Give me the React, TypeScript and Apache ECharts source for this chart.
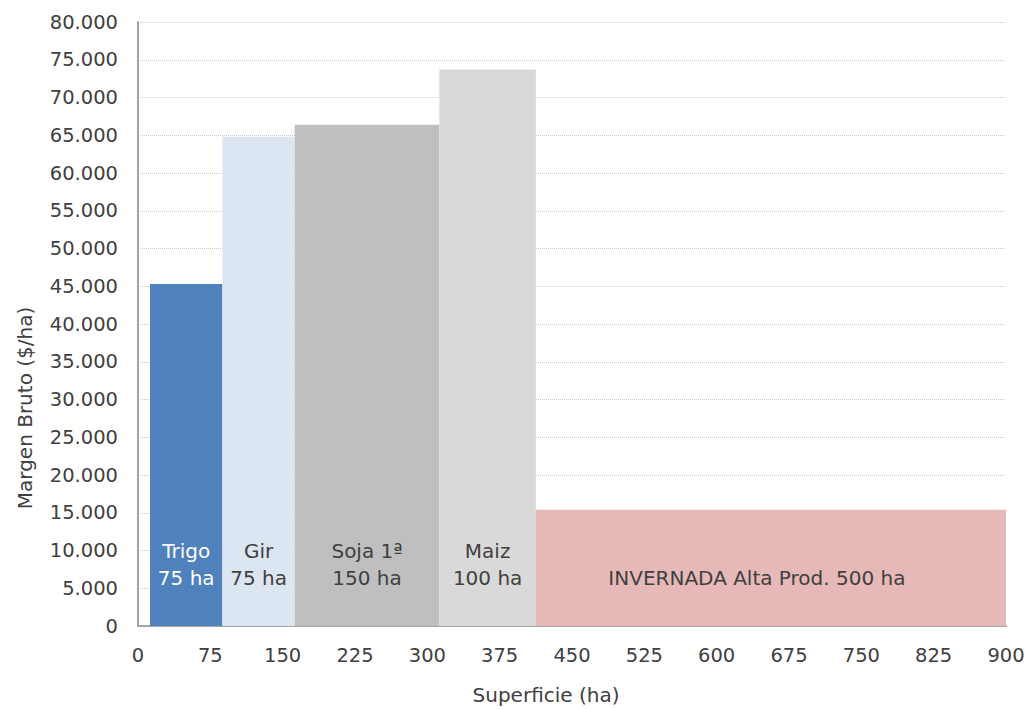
import React, { useEffect, useRef } from "react";
import * as echarts from "echarts";

const cropLabels = ["Trigo\n75 ha", "Gir\n75 ha", "Soja 1ª\n150 ha", "Maiz\n100 ha", "INVERNADA Alta Prod. 500 ha"];
const startHa = [12.5, 87.5, 162.5, 312.5, 412.5];
const endHa = [87.5, 162.5, 312.5, 412.5, 900];
const margenBruto = [45300, 64800, 66400, 73700, 15400];
const barColors = ["#4F81BD", "#DCE6F2", "#BFBFBF", "#D9D9D9", "#E6B9B8"];
const labelColors = ["#FFFFFF", "#404040", "#404040", "#404040", "#404040"];
const labelShiftX = [0, 0, 0, 0, -14];

const FONT = "DejaVu Sans";

function fmt(v: number) {
  return String(v).replace(/\B(?=(\d{3})+(?!\d))/g, ".");
}

export default function App() {
  const ref = useRef<HTMLDivElement>(null);
  useEffect(() => {
    document.body.style.margin = "0";
    const chart = echarts.init(ref.current!, null, { renderer: "svg" });
    const data = startHa.map((s, i) => [s, endHa[i], margenBruto[i]]);
    chart.setOption({
      animation: false,
      backgroundColor: "#ffffff",
      grid: { left: 138, right: 19, top: 22, bottom: 83, containLabel: false, outerBoundsMode: "none" },
      graphic: [
        {
          type: "text",
          x: 25,
          y: 408,
          rotation: Math.PI / 2,
          style: {
            text: "Margen Bruto ($/ha)",
            fontFamily: FONT,
            fontSize: 20,
            fill: "#404040",
            align: "center",
            verticalAlign: "middle",
          },
        },
        {
          type: "text",
          x: 546,
          y: 695,
          style: {
            text: "Superficie (ha)",
            fontFamily: FONT,
            fontSize: 20,
            fill: "#404040",
            align: "center",
            verticalAlign: "middle",
          },
        },
      ],
      xAxis: {
        type: "value",
        min: 0,
        max: 900,
        interval: 75,
        axisLine: { show: true, lineStyle: { color: "#A6A6A6", width: 2 } },
        axisTick: { show: false },
        splitLine: { show: false },
        axisLabel: { fontFamily: FONT, fontSize: 19.5, color: "#404040", margin: 19 },
      },
      yAxis: {
        type: "value",
        min: 0,
        max: 80000,
        interval: 5000,
        axisLine: { show: true, lineStyle: { color: "#A6A6A6", width: 2 } },
        axisTick: { show: false },
        splitLine: { show: true, lineStyle: { color: "#C8C8C8", type: "dotted", width: 1 } },
        axisLabel: { fontFamily: FONT, fontSize: 19.5, color: "#404040", margin: 20, formatter: (v: number) => fmt(v) },
      },
      series: [
        {
          type: "custom",
          data,
          encode: { x: [0, 1], y: 2 },
          renderItem: (params: any, api: any) => {
            const i = params.dataIndex;
            const p0 = api.coord([api.value(0), api.value(2)]);
            const p1 = api.coord([api.value(1), 0]);
            return {
              type: "rect",
              shape: { x: p0[0], y: p0[1], width: p1[0] - p0[0], height: p1[1] - p0[1] },
              style: { fill: barColors[i] },
              textContent: {
                style: {
                  text: cropLabels[i],
                  fill: labelColors[i],
                  fontFamily: FONT,
                  fontSize: 20,
                  lineHeight: 27,
                  align: "center",
                },
              },
              textConfig: { position: "insideBottom", distance: 35, offset: [labelShiftX[i], 0] },
            };
          },
        },
      ],
    });
    return () => chart.dispose();
  }, []);
  return <div ref={ref} style={{ width: 1025, height: 709 }} />;
}
